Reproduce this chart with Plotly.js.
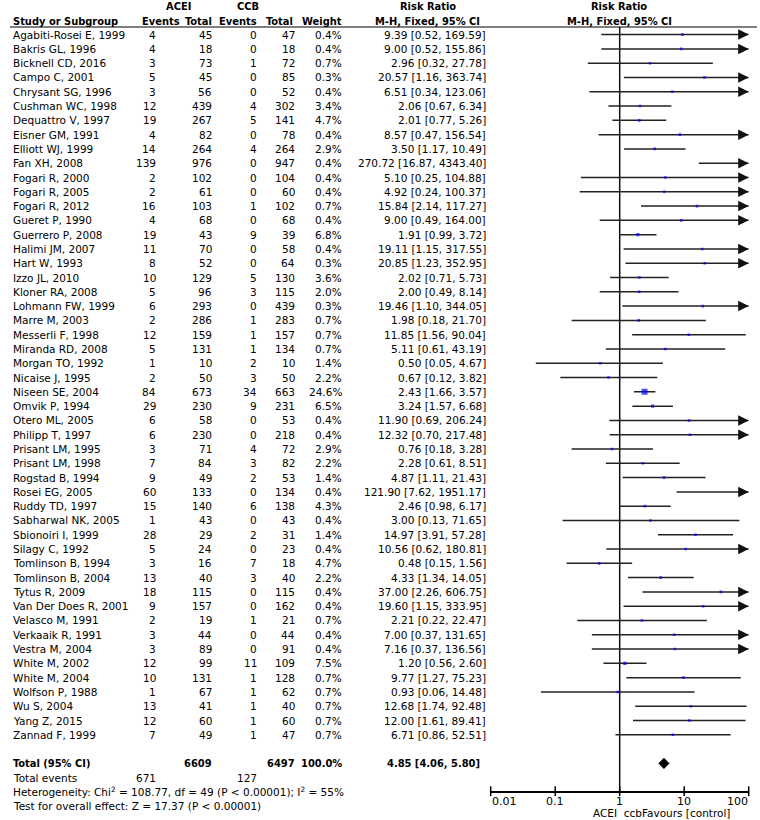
<!DOCTYPE html>
<html><head><meta charset="utf-8">
<script src="https://cdn.plot.ly/plotly-3.0.1.min.js"></script>
<style>html,body{margin:0;padding:0;background:#fff}</style>
</head><body><div id="chart" style="width:760px;height:820px"></div>
<script>
// ---------- DATA ----------
const studies = ["Agabiti-Rosei E, 1999","Bakris GL, 1996","Bicknell CD, 2016","Campo C, 2001","Chrysant SG, 1996","Cushman WC, 1998","Dequattro V, 1997","Eisner GM, 1991","Elliott WJ, 1999","Fan XH, 2008","Fogari R, 2000","Fogari R, 2005","Fogari R, 2012","Gueret P, 1990","Guerrero P, 2008","Halimi JM, 2007","Hart W, 1993","Izzo JL, 2010","Kloner RA, 2008","Lohmann FW, 1999","Marre M, 2003","Messerli F, 1998","Miranda RD, 2008","Morgan TO, 1992","Nicaise J, 1995","Niseen SE, 2004","Omvik P, 1994","Otero ML, 2005","Philipp T, 1997","Prisant LM, 1995","Prisant LM, 1998","Rogstad B, 1994","Rosei EG, 2005","Ruddy TD, 1997","Sabharwal NK, 2005","Sbionoiri I, 1999","Silagy C, 1992","Tomlinson B, 1994","Tomlinson B, 2004","Tytus R, 2009","Van Der Does R, 2001","Velasco M, 1991","Verkaaik R, 1991","Vestra M, 2004","White M, 2002","White M, 2004","Wolfson P, 1988","Wu S, 2004","Yang Z, 2015","Zannad F, 1999"];
const aceiEvents = [4,4,3,5,3,12,19,4,14,139,2,2,16,4,19,11,8,10,5,6,2,12,5,1,2,84,29,6,6,3,7,9,60,15,1,28,5,3,13,18,9,2,3,3,12,10,1,13,12,7];
const aceiTotal  = [45,18,73,45,56,439,267,82,264,976,102,61,103,68,43,70,52,129,96,293,286,159,131,10,50,673,230,58,230,71,84,49,133,140,43,29,24,16,40,115,157,19,44,89,99,131,67,41,60,49];
const ccbEvents  = [0,0,1,0,0,4,5,0,4,0,0,0,1,0,9,0,0,5,3,0,1,1,1,2,3,34,9,0,0,4,3,2,0,6,0,2,0,7,3,0,0,1,0,0,11,1,1,1,1,1];
const ccbTotal   = [47,18,72,85,52,302,141,78,264,947,104,60,102,68,39,58,64,130,115,439,283,157,134,10,50,663,231,53,218,72,82,53,134,138,43,31,23,18,40,115,162,21,44,91,109,128,62,40,60,47];
const weights    = [0.4,0.4,0.7,0.3,0.4,3.4,4.7,0.4,2.9,0.4,0.4,0.4,0.7,0.4,6.8,0.4,0.3,3.6,2.0,0.3,0.7,0.7,0.7,1.4,2.2,24.6,6.5,0.4,0.4,2.9,2.2,1.4,0.4,4.3,0.4,1.4,0.4,4.7,2.2,0.4,0.4,0.7,0.4,0.4,7.5,0.7,0.7,0.7,0.7,0.7];
const riskRatio  = [9.39,9.00,2.96,20.57,6.51,2.06,2.01,8.57,3.50,270.72,5.10,4.92,15.84,9.00,1.91,19.11,20.85,2.02,2.00,19.46,1.98,11.85,5.11,0.50,0.67,2.43,3.24,11.90,12.32,0.76,2.28,4.87,121.90,2.46,3.00,14.97,10.56,0.48,4.33,37.00,19.60,2.21,7.00,7.16,1.20,9.77,0.93,12.68,12.00,6.71];
const ciLow      = [0.52,0.52,0.32,1.16,0.34,0.67,0.77,0.47,1.17,16.87,0.25,0.24,2.14,0.49,0.99,1.15,1.23,0.71,0.49,1.10,0.18,1.56,0.61,0.05,0.12,1.66,1.57,0.69,0.70,0.18,0.61,1.11,7.62,0.98,0.13,3.91,0.62,0.15,1.34,2.26,1.15,0.22,0.37,0.37,0.56,1.27,0.06,1.74,1.61,0.86];
const ciHigh     = [169.59,155.86,27.78,363.74,123.06,6.34,5.26,156.54,10.49,4343.40,104.88,100.37,117.27,164.00,3.72,317.55,352.95,5.73,8.14,344.05,21.70,90.04,43.19,4.67,3.82,3.57,6.68,206.24,217.48,3.28,8.51,21.43,1951.17,6.17,71.65,57.28,180.81,1.56,14.05,606.75,333.95,22.47,131.65,136.56,2.60,75.23,14.48,92.48,89.41,52.51];
const totalLabel = "Total (95% CI)";
const totalN = [6609, 6497];          // ACEI, CCB
const totalEvents = [671, 127];       // ACEI, CCB
const totalWeight = "100.0%";
const pooled = [4.85, 4.06, 5.80];    // estimate, low, high
const heterogeneityText = "Heterogeneity: Chi<sup>2</sup> = 108.77, df = 49 (P &lt; 0.00001); I<sup>2</sup> = 55%";
const overallText = "Test for overall effect: Z = 17.37 (P &lt; 0.00001)";
const tickVals = [0.01, 0.1, 1, 10, 100];
const tickText = ["0.01", "0.1", "1", "10", "100"];
const favoursText = "ACEI\u00a0 ccbFavours [control]";

// ---------- LAYOUT GEOMETRY ----------
const W = 760, H = 820;
const FONT = "DejaVu Sans", BFONT = "DejaVu Sans Condensed, Liberation Sans, DejaVu Sans";
const FS = 10.5, BFS = 11;
const ROW0 = 34.6, STEP = 14.29;
const row = px => (px - ROW0) / STEP;     // pixel y -> row units
const XMAX = tickVals[tickVals.length - 1];
const AXIS_PX = 791.2;
const axisRow = row(AXIS_PX);
const headLineRow = row(27);
const totalRow = studies.length + 1;

const annotations = [];
function txt(t, px, r, anchor, bold) {
  annotations.push({text: bold ? "<b>" + t + "</b>" : t, xref: "paper", x: px / W, yref: "y", y: r,
    xanchor: anchor, yanchor: "middle", showarrow: false, borderpad: 0,
    font: {family: bold ? BFONT : FONT, size: bold ? BFS : FS, color: "#000"}});
}
// headers
const h1 = row(6.5), h2 = row(21);
txt("ACEI", 178, h1, "center", true);
txt("CCB", 248, h1, "center", true);
txt("Risk Ratio", 428, h1, "center", true);
txt("Risk Ratio", 619, h1, "center", true);
txt("Study or Subgroup", 12, h2, "left", true);
txt("Events", 181, h2, "right", true);
txt("Total", 213, h2, "right", true);
txt("Events", 258, h2, "right", true);
txt("Total", 294, h2, "right", true);
txt("Weight", 343, h2, "right", true);
txt("M-H, Fixed, 95% CI", 481, h2, "right", true);
txt("M-H, Fixed, 95% CI", 619, h2, "center", true);

// study rows
const f2 = v => v.toFixed(2);
studies.forEach((s, i) => {
  txt(s, 12, i, "left");
  txt(String(aceiEvents[i]), 157, i, "right");
  txt(String(aceiTotal[i]), 213, i, "right");
  txt(String(ccbEvents[i]), 258, i, "right");
  txt(String(ccbTotal[i]), 296, i, "right");
  txt(weights[i].toFixed(1) + "%", 343, i, "right");
  txt(f2(riskRatio[i]) + " [" + f2(ciLow[i]) + ", " + f2(ciHigh[i]) + "]", 487, i, "right");
});
// totals
txt(totalLabel, 12, totalRow, "left", true);
txt(String(totalN[0]), 213, totalRow, "right", true);
txt(String(totalN[1]), 296, totalRow, "right", true);
txt(totalWeight, 343, totalRow, "right", true);
txt(f2(pooled[0]) + " [" + f2(pooled[1]) + ", " + f2(pooled[2]) + "]", 481, totalRow, "right", true);
txt("Total events", 12, totalRow + 1, "left");
txt(String(totalEvents[0]), 157, totalRow + 1, "right");
txt(String(totalEvents[1]), 258, totalRow + 1, "right");
txt(heterogeneityText, 12, totalRow + 2, "left");
txt(overallText, 12, totalRow + 3, "left");
txt(favoursText, 592, row(813), "left");

// tick labels (placed through the x data scale)
tickVals.forEach((v, k) => {
  annotations.push({text: tickText[k], xref: "x", x: Math.log10(v), yref: "y", y: row(801.5),
    xanchor: k === 0 ? "left" : (k === tickVals.length - 1 ? "right" : "center"), yanchor: "middle",
    showarrow: false, borderpad: 0, font: {family: FONT, size: 11, color: "#000"}});
});

// arrows for CIs running beyond the axis
ciHigh.forEach((h, i) => {
  if (h > XMAX) annotations.push({xref: "x", yref: "y", x: Math.log10(XMAX), y: i, ax: -8, ay: 0,
    axref: "pixel", ayref: "pixel", text: "", showarrow: true, arrowhead: 2, arrowsize: 1.4,
    arrowwidth: 1.5, arrowcolor: "#111"});
});

// ---------- TRACES ----------
const ciX = [], ciY = [];
studies.forEach((s, i) => {
  ciX.push(ciLow[i], Math.min(ciHigh[i], XMAX), null);
  ciY.push(i, i, null);
});
const traces = [
  {x: [1, 1], y: [headLineRow, axisRow], mode: "lines", line: {color: "#111", width: 1.5}, hoverinfo: "skip"},
  {x: ciX, y: ciY, mode: "lines", line: {color: "#222", width: 1.5}, hoverinfo: "skip"},
  {x: riskRatio, y: studies.map((s, i) => i), mode: "markers",
   marker: {symbol: "square", color: "#0000ff", size: weights.map(w => Math.max(2.6, 1.2 * Math.sqrt(w))), line: {width: 0}}},
  {x: [pooled[1], pooled[0], pooled[2], pooled[0], pooled[1]],
   y: [totalRow, totalRow - 0.36, totalRow, totalRow + 0.36, totalRow],
   mode: "lines", fill: "toself", fillcolor: "#000", line: {color: "#000", width: 1}, hoverinfo: "skip"},
  {x: tickVals, y: tickVals.map(() => axisRow), mode: "markers", hoverinfo: "skip", cliponaxis: false,
   marker: {symbol: "line-ns", size: 7, line: {width: 1.5, color: "#000"}}}
];

const layout = {
  width: W, height: H, margin: {l: 0, r: 0, t: 0, b: 0},
  paper_bgcolor: "#fff", plot_bgcolor: "rgba(0,0,0,0)", showlegend: false,
  xaxis: {type: "log", range: [-2, 2], domain: [490.7 / W, 748.7 / W], anchor: "free",
    position: (H - AXIS_PX) / H, showline: true, linecolor: "#000", linewidth: 1.5,
    ticks: "", showticklabels: false, showgrid: false, zeroline: false, fixedrange: true},
  yaxis: {range: [row(H), row(0)], domain: [0, 1], visible: false, fixedrange: true},
  shapes: [{type: "line", xref: "paper", yref: "paper", x0: 10 / W, x1: 757 / W,
    y0: 1 - 27 / H, y1: 1 - 27 / H, line: {color: "#000", width: 1.2}}],
  annotations: annotations
};
Plotly.newPlot("chart", traces, layout, {displayModeBar: false, staticPlot: true});
</script></body></html>
